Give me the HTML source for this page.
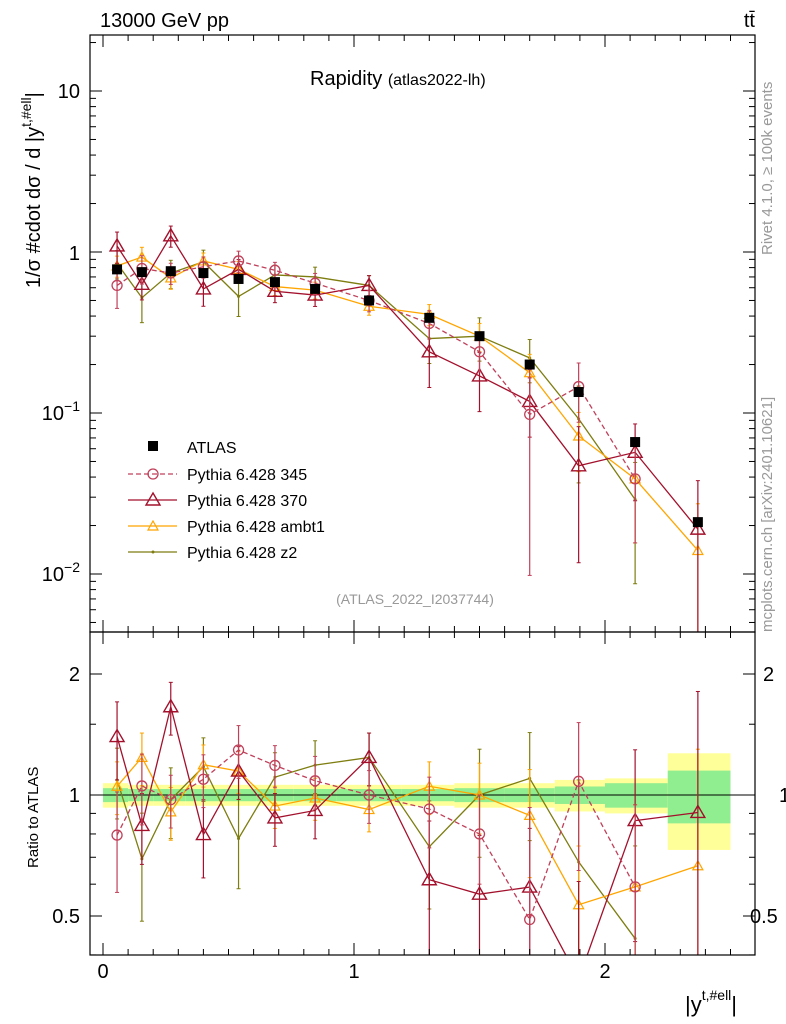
<!DOCTYPE html>
<html><head><meta charset="utf-8"><style>
html,body{margin:0;padding:0;background:#fff;width:786px;height:1024px;overflow:hidden}
svg{font-family:"Liberation Sans",sans-serif;display:block}
</style></head><body>
<svg id="c" width="786" height="1024" viewBox="0 0 786 1024" overflow="hidden"></svg>
<script>
const xVals=[0.056,0.155,0.27,0.4,0.54,0.685,0.845,1.06,1.3,1.5,1.7,1.895,2.12,2.37];
const binEdges=[0,0.1,0.2,0.33,0.47,0.61,0.76,0.93,1.19,1.4,1.6,1.8,2.0,2.25,2.5];
const atlas=[0.78,0.75,0.76,0.74,0.68,0.65,0.59,0.50,0.39,0.30,0.20,0.135,0.066,0.021];
const yellowBand=[0.07,0.06,0.06,0.06,0.06,0.06,0.06,0.06,0.06,0.07,0.07,0.09,0.1,0.27];
const greenBand=[0.04,0.035,0.035,0.035,0.035,0.035,0.035,0.035,0.035,0.04,0.04,0.05,0.07,0.15];
const s345=[0.62,0.79,0.74,0.81,0.88,0.77,0.64,0.50,0.36,0.24,0.098,0.146,0.039,null];
const e345=[0.28,0.2,0.15,0.15,0.15,0.12,0.15,0.15,0.2,0.25,0.9,0.4,0.6,0];
const s370=[1.09,0.63,1.26,0.59,0.78,0.57,0.54,0.62,0.24,0.17,0.118,0.047,0.057,0.019];
const e370=[0.22,0.2,0.15,0.22,0.15,0.15,0.15,0.15,0.4,0.4,0.4,0.75,0.5,1.0];
const sAmbt1=[0.82,0.93,0.69,0.88,0.78,0.61,0.58,0.46,0.41,0.30,0.178,0.072,0.039,0.014];
const eAmbt1=[0.15,0.15,0.15,0.12,0.12,0.12,0.12,0.12,0.15,0.2,0.3,0.4,0.6,0.95];
const sZ2=[0.85,0.52,0.74,0.87,0.53,0.72,0.70,0.62,0.29,0.30,0.22,0.092,0.029,null];
const eZ2=[0.2,0.3,0.2,0.18,0.25,0.15,0.15,0.15,0.3,0.3,0.3,0.6,0.7,0];

const NS="http://www.w3.org/2000/svg",svg=document.getElementById('c');
const X=v=>103+251*v, Ym=v=>252-161*Math.log10(v), Yr=r=>795-121*Math.log2(r);
function el(t,a,p){const e=document.createElementNS(NS,t);for(const k in a)e.setAttribute(k,a[k]);(p||svg).appendChild(e);return e;}
function txt(x,y,s,a,p){const e=el('text',Object.assign({x:x,y:y},a),p);e.textContent=s;return e;}
const defs=el('defs',{});
const c1=el('clipPath',{id:'cm'},defs);el('rect',{x:90,y:35,width:665,height:597},c1);
const c2=el('clipPath',{id:'cr'},defs);el('rect',{x:90,y:632,width:665,height:323},c2);
const gm=el('g',{'clip-path':'url(#cm)'});
const gr=el('g',{'clip-path':'url(#cr)'});

for(let i=0;i<atlas.length;i++){
  const x0=X(binEdges[i]),x1=X(binEdges[i+1]);
  const b=el('rect',{x:x0,y:Yr(1+yellowBand[i]),width:x1-x0,height:Yr(1-yellowBand[i])-Yr(1+yellowBand[i]),fill:'#ffff99'},gr);
  
  const g=el('rect',{x:x0,y:Yr(1+greenBand[i]),width:x1-x0,height:Yr(1-greenBand[i])-Yr(1+greenBand[i]),fill:'#90ee90'},gr);
  
}
el('line',{x1:90,x2:755,y1:Yr(1),y2:Yr(1),stroke:'#000','stroke-width':1},gr);

function marker(type,x,y,col,g){
  if(type==='circle')el('circle',{cx:x,cy:y,r:5,fill:'none',stroke:col,'stroke-width':1.3},g);
  else if(type==='tri')el('path',{d:`M${x},${y-7}L${x+7},${y+5}L${x-7},${y+5}Z`,fill:'none',stroke:col,'stroke-width':1.4},g);
  else if(type==='tris')el('path',{d:`M${x},${y-5}L${x+5},${y+4}L${x-5},${y+4}Z`,fill:'none',stroke:col,'stroke-width':1.2},g);
  else if(type==='dot')el('circle',{cx:x,cy:y,r:1.5,fill:col},g);
}
function series(vals,errs,col,dash,mk,name){
  [[gm,(v)=>Ym(v),1],[gr,(v,i)=>Yr(v/atlas[i]),0]].forEach(([g,fy,isMain])=>{
    const sg=el('g',{},g);
    
    
    let d='';
    vals.forEach((v,i)=>{if(v==null)return;d+=(d?'L':'M')+X(xVals[i])+','+fy(v,i);});
    el('path',{d:d,fill:'none',stroke:col,'stroke-width':1.3,'stroke-dasharray':dash||'none'},sg);
    vals.forEach((v,i)=>{if(v==null)return;
      const x=X(xVals[i]),lo=Math.max(v*(1-errs[i]),1e-4),hi=v*(1+errs[i]);
      el('line',{x1:x,x2:x,y1:fy(lo,i),y2:fy(hi,i),stroke:col,'stroke-width':1.2},sg);
      el('line',{x1:x-2,x2:x+2,y1:fy(lo,i),y2:fy(lo,i),stroke:col},sg);
      el('line',{x1:x-2,x2:x+2,y1:fy(hi,i),y2:fy(hi,i),stroke:col},sg);
      marker(mk,x,fy(v,i),col,sg);});
  });
}
series(sZ2,eZ2,'#7d7d10',null,'dot','series-z2');
series(sAmbt1,eAmbt1,'#ffa500',null,'tris','series-ambt1');
series(s370,e370,'#a3102c',null,'tri','series-370');
series(s345,e345,'#c0405a','5,3','circle','series-345');
atlas.forEach((v,i)=>{const r=el('rect',{x:X(xVals[i])-5,y:Ym(v)-5,width:10,height:10,fill:'#000'},gm);
  });

el('rect',{x:90,y:35,width:665,height:597,fill:'none',stroke:'#000','stroke-width':1.2});
el('rect',{x:90,y:632,width:665,height:323,fill:'none',stroke:'#000','stroke-width':1.2});
for(let k=0;k<=26;k++){const v=k/10,x=X(v);if(x>755)break;const L=k%10===0?12:6;
  [[35,1],[632,-1],[632,1],[955,-1]].forEach(([y,s])=>el('line',{x1:x,x2:x,y1:y,y2:y+s*L,stroke:'#000'}));}
[0,1,2].forEach(v=>txt(X(v),978,String(v),{'font-size':20,'text-anchor':'middle'}));
for(let d=-3;d<=1;d++)for(let m=1;m<10;m++){const v=m*Math.pow(10,d),y=Ym(v);if(y<35||y>632)continue;const L=m===1?12:6;
  el('line',{x1:90,x2:90+L,y1:y,y2:y,stroke:'#000'});el('line',{x1:755,x2:755-L,y1:y,y2:y,stroke:'#000'});}
txt(80,98,'10',{'font-size':20,'text-anchor':'end'});
txt(80,260,'1',{'font-size':20,'text-anchor':'end'});
const t1=txt(80,420,'10',{'font-size':20,'text-anchor':'end'});el('tspan',{dy:-9,'font-size':14},t1).textContent='−1';
const t2=txt(80,581,'10',{'font-size':20,'text-anchor':'end'});el('tspan',{dy:-9,'font-size':14},t2).textContent='−2';
[0.4,0.5,0.6,0.7,0.8,0.9,1,1.5,2].forEach(v=>{const y=Yr(v);if(y<632||y>955)return;const L=(v===0.5||v===1||v===2)?12:6;
  el('line',{x1:90,x2:90+L,y1:y,y2:y,stroke:'#000'});el('line',{x1:755,x2:755-L,y1:y,y2:y,stroke:'#000'});});
[[0.5,'0.5',750],[1,'1',779],[2,'2',763]].forEach(([v,s,rx])=>{txt(80,Yr(v)+7,s,{'font-size':20,'text-anchor':'end'});txt(rx,Yr(v)+7,s,{'font-size':20});});
txt(100,27,'13000 GeV pp',{'font-size':20});
txt(755,27,'tt̄',{'font-size':20,'text-anchor':'end'});
const ti=txt(310,85,'Rapidity ',{'font-size':20});el('tspan',{'font-size':16},ti).textContent='(atlas2022-lh)';
txt(415,604,'(ATLAS_2022_I2037744)',{'font-size':14,'text-anchor':'middle',fill:'#999'});
const yt=txt(0,0,'1/σ #cdot dσ / d |y',{'font-size':20,transform:'translate(40,288) rotate(-90)'});

el('tspan',{dy:-9,'font-size':14},yt).textContent='t,#ell';
el('tspan',{dy:9,'font-size':20},yt).textContent='|';
txt(0,0,'Ratio to ATLAS',{'font-size':15,transform:'translate(38,868) rotate(-90)'});
const xl=txt(685,1012,'|y',{'font-size':22});el('tspan',{dy:-12,'font-size':14},xl).textContent='t,#ell';el('tspan',{dy:12,'font-size':22},xl).textContent='|';
txt(0,0,'Rivet 4.1.0, ≥ 100k events',{'font-size':15,fill:'#999',transform:'translate(772,255) rotate(-90)'});
txt(0,0,'mcplots.cern.ch [arXiv:2401.10621]',{'font-size':15,fill:'#999',transform:'translate(772,632) rotate(-90)'});
const lg=el('g',{});
el('rect',{x:148,y:441,width:10,height:10,fill:'#000'},lg);txt(187,453,'ATLAS',{'font-size':16},lg);
const leg=[['#c0405a','5,3','circle','Pythia 6.428 345'],['#a3102c',null,'tri','Pythia 6.428 370'],['#ffa500',null,'tris','Pythia 6.428 ambt1'],['#7d7d10',null,'dot','Pythia 6.428 z2']];
leg.forEach((l,i)=>{const y=474+i*26;el('line',{x1:128,x2:177,y1:y,y2:y,stroke:l[0],'stroke-width':1.3,'stroke-dasharray':l[1]||'none'},lg);
  marker(l[2],153,y,l[0],lg);txt(187,y+6,l[3],{'font-size':16},lg);});
</script>
</body></html>
